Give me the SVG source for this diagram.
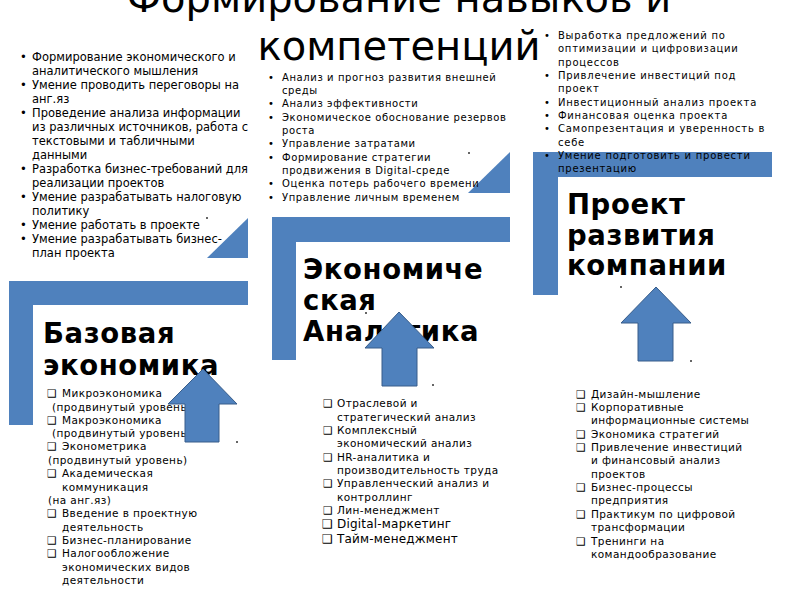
<svg xmlns="http://www.w3.org/2000/svg" width="800" height="600" viewBox="0 0 800 600">
<style>
.t{font-family:"DejaVu Sans","Noto Sans",sans-serif;fill:#000}
.title{font-size:40px;text-anchor:middle}
.l1{font-size:11.5px}
.l2{font-size:10px;letter-spacing:0.6px}
.l3{font-size:10px;letter-spacing:0.75px}
.b{font-size:10.5px;letter-spacing:0.4px}
.big{font-size:12px;letter-spacing:0.2px}
.h{font-size:27.5px;font-weight:bold;letter-spacing:0.6px}
.bar{fill:#4f81bd}
.arr{fill:#4f81bd;stroke:#385d8a;stroke-width:1}
.dot{fill:#333}
</style>
<rect width="800" height="600" fill="#fff"/>

<g id="shapes">
  <polygon class="bar" points="9,281 248,281 248,305 33,305 33,425 9,425"/>
  <polygon class="bar" points="272,217 510,217 510,242 296,242 296,360 272,360"/>
  <polygon class="bar" points="533,152 772,152 772,177 558,177 558,295 533,295"/>
  <polygon class="bar" points="248,218 248,258 207,258"/>
  <polygon class="bar" points="510,152 510,193 468,193"/>
</g>

<g id="title">
  <text class="t title" x="399" y="12">Формирование навыков и</text>
  <text class="t title" x="399" y="60">компетенций</text>
</g>

<g id="skills-basic">
  <g class="t l1">
    <text x="20" y="61">•</text><text x="32" y="61">Формирование экономического и</text>
    <text x="32" y="75">аналитического мышления</text>
    <text x="20" y="89">•</text><text x="32" y="89">Умение проводить переговоры на</text>
    <text x="32" y="103">анг.яз</text>
    <text x="20" y="117">•</text><text x="32" y="117">Проведение анализа информации</text>
    <text x="32" y="131">из различных источников, работа с</text>
    <text x="32" y="145">текстовыми и табличными</text>
    <text x="32" y="159">данными</text>
    <text x="20" y="173">•</text><text x="32" y="173">Разработка бизнес-требований для</text>
    <text x="32" y="187">реализации проектов</text>
    <text x="20" y="201">•</text><text x="32" y="201">Умение разрабатывать налоговую</text>
    <text x="32" y="215">политику</text>
    <text x="20" y="229">•</text><text x="32" y="229">Умение работать в проекте</text>
    <text x="20" y="243">•</text><text x="32" y="243">Умение разрабатывать бизнес-</text>
    <text x="32" y="257">план проекта</text>
  </g>
</g>

<g id="skills-analytics">
  <g class="t l2">
    <text x="268" y="81">•</text><text x="282" y="81">Анализ и прогноз развития внешней</text>
    <text x="282" y="94">среды</text>
    <text x="268" y="107">•</text><text x="282" y="107">Анализ эффективности</text>
    <text x="268" y="121">•</text><text x="282" y="121">Экономическое обоснование резервов</text>
    <text x="282" y="134">роста</text>
    <text x="268" y="147">•</text><text x="282" y="147">Управление затратами</text>
    <text x="268" y="161">•</text><text x="282" y="161">Формирование стратегии</text>
    <text x="282" y="174">продвижения в Digital-среде</text>
    <text x="268" y="187">•</text><text x="282" y="187">Оценка потерь рабочего времени</text>
    <text x="268" y="201">•</text><text x="282" y="201">Управление личным временем</text>
  </g>
</g>

<g id="skills-project">
  <g class="t l3">
    <text x="544" y="39">•</text><text x="558" y="39">Выработка предложений по</text>
    <text x="558" y="52">оптимизации и цифровизации</text>
    <text x="558" y="66">процессов</text>
    <text x="544" y="79">•</text><text x="558" y="79">Привлечение инвестиций под</text>
    <text x="558" y="92">проект</text>
    <text x="544" y="106">•</text><text x="558" y="106">Инвестиционный анализ проекта</text>
    <text x="544" y="119">•</text><text x="558" y="119">Финансовая оценка проекта</text>
    <text x="544" y="132">•</text><text x="558" y="132">Самопрезентация и уверенность в</text>
    <text x="558" y="146">себе</text>
    <text x="544" y="159">•</text><text x="558" y="159">Умение подготовить и провести</text>
    <text x="558" y="172">презентацию</text>
  </g>
</g>

<g id="node-basic">
  <text class="t h" x="43" y="343">Базовая</text>
  <text class="t h" x="43" y="375">экономика</text>
  <g class="t b">
    <text x="47" y="397">❑</text><text x="62" y="397">Микроэкономика</text>
    <text x="52" y="411">(продвинутый уровень)</text>
    <text x="47" y="424">❑</text><text x="62" y="424">Макроэкономика</text>
    <text x="52" y="437">(продвинутый уровень)</text>
    <text x="47" y="450">❑</text><text x="62" y="450">Эконометрика</text>
    <text x="48" y="464">(продвинутый уровень)</text>
    <text x="47" y="477">❑</text><text x="62" y="477">Академическая</text>
    <text x="62" y="491">коммуникация</text>
    <text x="48" y="504">(на анг.яз)</text>
    <text x="47" y="517">❑</text><text x="62" y="517">Введение в проектную</text>
    <text x="62" y="531">деятельность</text>
    <text x="47" y="544">❑</text><text x="62" y="544">Бизнес-планирование</text>
    <text x="47" y="557">❑</text><text x="62" y="557">Налогообложение</text>
    <text x="62" y="571">экономических видов</text>
    <text x="62" y="584">деятельности</text>
  </g>
</g>

<g id="node-analytics">
  <text class="t h" x="303" y="279">Экономиче</text>
  <text class="t h" x="303" y="310">ская</text>
  <text class="t h" x="303" y="341">Аналитика</text>
  <g class="t b">
    <text x="323" y="407">❑</text><text x="337" y="407">Отраслевой и</text>
    <text x="337" y="421">стратегический анализ</text>
    <text x="323" y="434">❑</text><text x="337" y="434">Комплексный</text>
    <text x="337" y="447">экономический анализ</text>
    <text x="323" y="461">❑</text><text x="337" y="461">HR-аналитика и</text>
    <text x="337" y="474">производительность труда</text>
    <text x="323" y="487">❑</text><text x="337" y="487">Управленческий анализ и</text>
    <text x="337" y="501">контроллинг</text>
    <text x="323" y="514">❑</text><text x="337" y="514">Лин-менеджмент</text>
  </g>
  <g class="t big">
    <text x="322" y="528">❑</text><text x="337" y="528">Digital-маркетинг</text>
    <text x="322" y="543">❑</text><text x="337" y="543">Тайм-менеджмент</text>
  </g>
</g>

<g id="node-project">
  <text class="t h" x="567" y="214">Проект</text>
  <text class="t h" x="567" y="245">развития</text>
  <text class="t h" x="567" y="275">компании</text>
  <g class="t b">
    <text x="576" y="398">❑</text><text x="591" y="398">Дизайн-мышление</text>
    <text x="576" y="411">❑</text><text x="591" y="411">Корпоративные</text>
    <text x="591" y="424">информационные системы</text>
    <text x="576" y="438">❑</text><text x="591" y="438">Экономика стратегий</text>
    <text x="576" y="451">❑</text><text x="591" y="451">Привлечение инвестиций</text>
    <text x="591" y="464">и финансовый анализ</text>
    <text x="591" y="478">проектов</text>
    <text x="576" y="491">❑</text><text x="591" y="491">Бизнес-процессы</text>
    <text x="591" y="504">предприятия</text>
    <text x="576" y="518">❑</text><text x="591" y="518">Практикум по цифровой</text>
    <text x="591" y="531">трансформации</text>
    <text x="576" y="545">❑</text><text x="591" y="545">Тренинги на</text>
    <text x="591" y="558">командообразование</text>
  </g>
</g>

<g id="connectors">
  <polygon class="arr" points="203,369 237,404 219,404 219,442 185,442 185,404 168,404"/>
  <polygon class="arr" points="399,312 434,348 417,348 417,386 382,386 382,348 365,348"/>
  <polygon class="arr" points="656,287 691,323 673,323 673,361 638,361 638,323 621,323"/>
</g>

<g id="marks">
  <circle class="dot" cx="207" cy="218" r="1"/>
  <circle class="dot" cx="469" cy="153" r="1"/>
  <circle class="dot" cx="237" cy="442" r="1"/>
  <circle class="dot" cx="366" cy="313" r="1"/>
  <circle class="dot" cx="433" cy="385" r="1"/>
  <circle class="dot" cx="621" cy="287" r="1"/>
  <circle class="dot" cx="691" cy="361" r="1"/>
</g>
</svg>
